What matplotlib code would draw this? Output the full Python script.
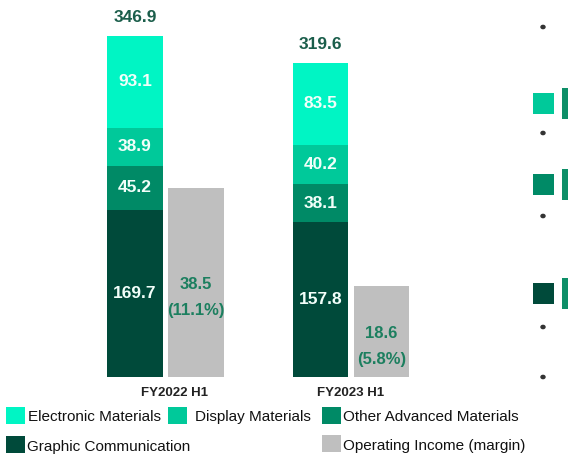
import matplotlib
matplotlib.use("Agg")
import matplotlib.pyplot as plt
from matplotlib.patches import Rectangle

# ---- data ----
periods = ["FY2022 H1", "FY2023 H1"]
graphic_comm = [169.7, 157.8]
other_adv = [45.2, 38.1]
display_mat = [38.9, 40.2]
electronic_mat = [93.1, 83.5]
totals = [346.9, 319.6]
op_income = [38.5, 18.6]
op_margin = ["(11.1%)", "(5.8%)"]
op_scale = 5  # display scaling of operating income bars

series_names = ["Graphic Communication", "Other Advanced Materials",
                "Display Materials", "Electronic Materials"]
series_vals = [graphic_comm, other_adv, display_mat, electronic_mat]
series_cols = ["#004A3A", "#008A66", "#00C99A", "#00F5C4"]
grey = "#BFBFBF"
dark_txt = "#1B5E4B"
green_txt = "#1C7F5F"

plt.rcParams["font.family"] = ["Liberation Sans", "DejaVu Sans"]

W, H = 568, 457
fig = plt.figure(figsize=(W / 100, H / 100), dpi=100)

x0, x1 = -0.6, 1.6
ax = fig.add_axes([54.2 / W, 80 / H, 408.1 / W, 375 * 0.983 / H])
ax.set_xlim(x0, x1)
ax.set_ylim(0, 375)
ax.axis("off")

xs = list(range(len(periods)))
off = 0.165
bw = 0.30
xs_stack = [x - off for x in xs]
xs_op = [x + off for x in xs]

bottom = [0.0] * len(xs)
for name, vals, col in zip(series_names, series_vals, series_cols):
    ax.bar(xs_stack, vals, bw, bottom=bottom, color=col, linewidth=0)
    for xi, v, b in zip(xs_stack, vals, bottom):
        ax.text(xi, b + v / 2, f"{v:.1f}", ha="center", va="center",
                color="#F2FFFA", fontsize=12.5, fontweight="bold")
    bottom = [b + v for b, v in zip(bottom, vals)]

for xi, t in zip(xs_stack, totals):
    ax.text(xi, t + 18.5, f"{t:.1f}", ha="center", va="center",
            color=dark_txt, fontsize=12.5, fontweight="bold")

op_h = [v * op_scale for v in op_income]
ax.bar(xs_op, op_h, bw, color=grey, linewidth=0)
for xi, h, v, m in zip(xs_op, op_h, op_income, op_margin):
    ax.text(xi, h / 2 - 2, f"{v:.1f}", ha="center", va="center",
            color=green_txt, fontsize=12, fontweight="bold")
    ax.text(xi, h / 2 - 29, m, ha="center", va="center",
            color=green_txt, fontsize=12, fontweight="bold")

label_shift = [0.05, 0.0]
for xi, p, s in zip(xs, periods, label_shift):
    ax.text(xi + s, -16.5, p, ha="center", va="center", color="#222222",
            fontsize=9.5, fontweight="bold")

# ---- legend (manual layout, in pixels from top-left) ----
def fig_rect(x, y, w, h, col):
    fig.patches.append(Rectangle((x / W, 1 - (y + h) / H), w / W, h / H,
                                 transform=fig.transFigure, color=col,
                                 linewidth=0))

def fig_text(x, y, s, **kw):
    fig.text(x / W, 1 - y / H, s, **kw)

legend_items = [
    ("Electronic Materials", series_cols[3], 6, 407, 28, 417),
    ("Display Materials", series_cols[2], 168, 407, 195, 417),
    ("Other Advanced Materials", series_cols[1], 322, 407, 343, 417),
    ("Graphic Communication", series_cols[0], 6, 436, 27, 447),
    ("Operating Income (margin)", grey, 322, 435, 343, 446),
]
for label, col, px, py, tx, ty in legend_items:
    fig_rect(px, py, 19, 16.5, col)
    fig_text(tx, ty, label, ha="left", va="center", fontsize=11,
             color="#111111")

# ---- cropped slide decorations on the right ----
for by in [27, 133, 216, 327, 377]:
    fig.patches.append(plt.Circle((543 / W, 1 - by / H), 2 / W,
                                  transform=fig.transFigure, color="#333333"))
for sy, col in [(93, series_cols[2]), (174, series_cols[1]), (283, series_cols[0])]:
    fig_rect(533, sy, 21, 21, col)
    fig_rect(562, sy - 5, 7, 31, "#0E8F68")

fig.savefig("out.png", dpi=100)
